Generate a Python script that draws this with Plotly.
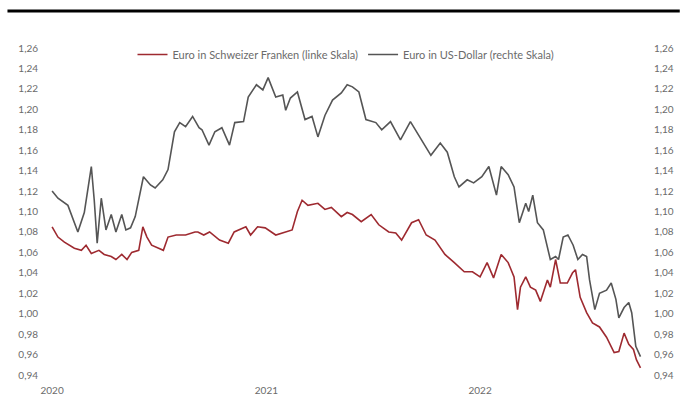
import plotly.graph_objects as go

# Euro in Schweizer Franken (EUR/CHF), linke Skala
chf_dates = [
    "2020-01-01", "2020-01-11", "2020-01-22", "2020-02-08", "2020-02-20", "2020-02-28",
    "2020-03-08", "2020-03-21", "2020-03-30", "2020-04-11", "2020-04-19", "2020-04-29",
    "2020-05-08", "2020-05-16", "2020-05-28", "2020-06-04", "2020-06-11", "2020-06-19",
    "2020-07-01", "2020-07-09", "2020-07-17", "2020-07-31", "2020-08-16", "2020-09-01",
    "2020-09-06", "2020-09-16", "2020-09-26", "2020-10-13", "2020-10-28", "2020-11-07",
    "2020-11-27", "2020-12-05", "2020-12-17", "2020-12-30", "2021-01-17", "2021-01-30",
    "2021-02-14", "2021-02-23", "2021-03-03", "2021-03-13", "2021-03-30", "2021-04-11",
    "2021-04-22", "2021-05-09", "2021-05-19", "2021-05-28", "2021-06-12", "2021-06-29",
    "2021-07-12", "2021-07-29", "2021-08-10", "2021-08-20", "2021-09-06", "2021-09-18",
    "2021-10-01", "2021-10-16", "2021-11-02", "2021-11-18", "2021-12-05", "2021-12-19",
    "2022-01-01", "2022-01-13", "2022-01-24", "2022-02-06", "2022-02-18", "2022-02-28",
    "2022-03-06", "2022-03-11", "2022-03-20", "2022-03-28", "2022-04-06", "2022-04-14",
    "2022-04-26", "2022-05-01", "2022-05-10", "2022-05-18", "2022-05-30", "2022-06-08",
    "2022-06-13", "2022-06-21", "2022-07-02", "2022-07-12", "2022-07-24", "2022-08-05",
    "2022-08-18", "2022-08-26", "2022-09-04", "2022-09-12", "2022-09-20", "2022-09-25",
    "2022-10-02",
]
chf_values = [
    1.085, 1.075, 1.070, 1.064, 1.062, 1.067,
    1.059, 1.062, 1.058, 1.056, 1.053, 1.058,
    1.053, 1.060, 1.062, 1.085, 1.075, 1.067,
    1.064, 1.062, 1.075, 1.077, 1.077, 1.080,
    1.080, 1.077, 1.080, 1.072, 1.069, 1.080,
    1.085, 1.077, 1.085, 1.084, 1.077, 1.079,
    1.082, 1.100, 1.111, 1.106, 1.108, 1.102,
    1.104, 1.095, 1.099, 1.097, 1.090, 1.097,
    1.087, 1.080, 1.079, 1.072, 1.089, 1.092,
    1.077, 1.072, 1.058, 1.050, 1.041, 1.041,
    1.036, 1.050, 1.035, 1.058, 1.050, 1.036,
    1.004, 1.026, 1.036, 1.026, 1.023, 1.012,
    1.033, 1.026, 1.053, 1.030, 1.030, 1.040,
    1.043, 1.016, 1.001, 0.991, 0.987, 0.977,
    0.962, 0.963, 0.981, 0.970, 0.965, 0.955,
    0.947,
]

# Euro in US-Dollar (EUR/USD), rechte Skala
usd_dates = [
    "2020-01-01", "2020-01-11", "2020-01-28", "2020-02-14", "2020-02-25", "2020-03-08",
    "2020-03-13", "2020-03-18", "2020-03-25", "2020-04-02", "2020-04-11", "2020-04-19",
    "2020-04-29", "2020-05-06", "2020-05-14", "2020-05-22", "2020-06-05", "2020-06-17",
    "2020-06-25", "2020-07-08", "2020-07-17", "2020-07-28", "2020-08-06", "2020-08-16",
    "2020-08-28", "2020-09-08", "2020-09-13", "2020-09-25", "2020-10-05", "2020-10-17",
    "2020-10-30", "2020-11-08", "2020-11-23", "2020-12-01", "2020-12-15", "2020-12-26",
    "2021-01-04", "2021-01-17", "2021-01-29", "2021-02-03", "2021-02-11", "2021-02-23",
    "2021-03-08", "2021-03-20", "2021-03-30", "2021-04-11", "2021-04-24", "2021-05-09",
    "2021-05-19", "2021-05-28", "2021-06-08", "2021-06-20", "2021-07-07", "2021-07-17",
    "2021-08-01", "2021-08-18", "2021-09-04", "2021-09-20", "2021-10-09", "2021-10-25",
    "2021-11-06", "2021-11-18", "2021-11-26", "2021-12-10", "2021-12-21", "2022-01-04",
    "2022-01-16", "2022-01-29", "2022-02-06", "2022-02-18", "2022-02-28", "2022-03-09",
    "2022-03-20", "2022-03-25", "2022-04-01", "2022-04-09", "2022-04-19", "2022-05-01",
    "2022-05-10", "2022-05-15", "2022-05-23", "2022-05-31", "2022-06-09", "2022-06-17",
    "2022-06-25", "2022-07-02", "2022-07-07", "2022-07-16", "2022-07-24", "2022-08-05",
    "2022-08-13", "2022-08-21", "2022-08-26", "2022-09-04", "2022-09-12", "2022-09-17",
    "2022-09-24", "2022-10-02",
]
usd_values = [
    1.120, 1.113, 1.106, 1.080, 1.099, 1.144,
    1.111, 1.069, 1.113, 1.082, 1.097, 1.080,
    1.097, 1.082, 1.084, 1.095, 1.134, 1.126,
    1.123, 1.131, 1.141, 1.178, 1.187, 1.183,
    1.193, 1.182, 1.180, 1.165, 1.178, 1.182,
    1.165, 1.187, 1.188, 1.212, 1.224, 1.219,
    1.231, 1.212, 1.214, 1.199, 1.211, 1.217,
    1.190, 1.193, 1.173, 1.194, 1.209, 1.216,
    1.224, 1.222, 1.217, 1.190, 1.187, 1.180,
    1.188, 1.170, 1.188, 1.173, 1.155, 1.167,
    1.158, 1.134, 1.124, 1.131, 1.128, 1.134,
    1.144, 1.116, 1.144, 1.136, 1.124, 1.089,
    1.108, 1.100, 1.116, 1.089, 1.082, 1.053,
    1.056, 1.053, 1.075, 1.077, 1.067, 1.053,
    1.058, 1.056, 1.033, 1.004, 1.020, 1.023,
    1.030, 1.014, 0.996, 1.006, 1.011, 1.001,
    0.968, 0.958,
]

year_ticks = ["2020-01-01", "2021-01-01", "2022-01-01"]
year_labels = ["2020", "2021", "2022"]

font_family = "Lato, 'Open Sans', sans-serif"
label_grey = "#6b6b6b"

fig = go.Figure()
fig.add_trace(go.Scatter(
    x=chf_dates, y=chf_values, mode="lines",
    name="Euro in Schweizer Franken (linke Skala)",
    line=dict(color="#9e2a30", width=1.6),
    yaxis="y",
))
fig.add_trace(go.Scatter(
    x=usd_dates, y=usd_values, mode="lines",
    name="Euro in US-Dollar (rechte Skala)",
    line=dict(color="#555555", width=1.6),
    yaxis="y2",
))

axis_font = dict(family=font_family, size=10, color=label_grey)
yaxis_common = dict(
    range=[0.94, 1.26], dtick=0.02, tick0=0.94, tickformat=".2f",
    showgrid=False, zeroline=False, showline=False,
    tickfont=axis_font, ticks="", ticklabelstandoff=9,
)

fig.update_layout(
    width=686, height=410,
    margin=dict(l=48, r=31, t=48, b=35),
    paper_bgcolor="white", plot_bgcolor="white",
    separators=",.",
    showlegend=True,
    legend=dict(
        orientation="h", x=0.5, xanchor="center", y=0.98, yanchor="middle",
        font=dict(family=font_family, size=11, color=label_grey),
        bgcolor="rgba(0,0,0,0)", itemwidth=30, tracegroupgap=0,
    ),
    xaxis=dict(
        type="date", range=["2019-12-25", "2022-10-08"],
        tickvals=year_ticks, ticktext=year_labels,
        showgrid=False, zeroline=False, showline=False, ticks="",
        tickfont=axis_font, ticklabelstandoff=8,
    ),
    yaxis=dict(side="left", **yaxis_common),
    yaxis2=dict(side="right", overlaying="y", **yaxis_common),
    shapes=[dict(
        type="line", xref="paper", yref="paper",
        x0=-0.068, x1=1.06, y0=1.113, y1=1.113,
        line=dict(color="black", width=3),
    )],
)

fig.write_html("out.html")
